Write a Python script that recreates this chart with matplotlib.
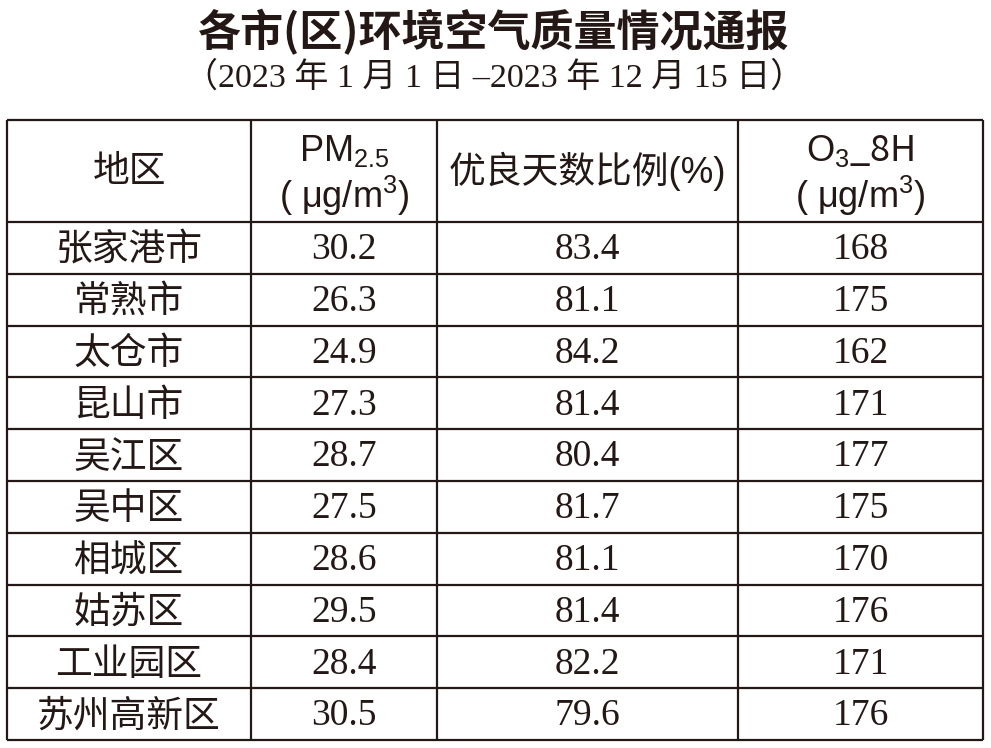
import matplotlib
matplotlib.use("Agg")
import matplotlib.pyplot as plt

# 中文字体 + 数学文本字体
plt.rcParams['font.family'] = ['Noto Sans CJK SC', 'DejaVu Sans']
plt.rcParams['mathtext.fontset'] = 'custom'
plt.rcParams['mathtext.rm'] = 'Liberation Sans'
plt.rcParams['mathtext.it'] = 'Liberation Sans'

# 数据
regions = ["张家港市", "常熟市", "太仓市", "昆山市", "吴江区",
           "吴中区", "相城区", "姑苏区", "工业园区", "苏州高新区"]
pm25 = ["30.2", "26.3", "24.9", "27.3", "28.7", "27.5", "28.6", "29.5", "28.4", "30.5"]
good_ratio = ["83.4", "81.1", "84.2", "81.4", "80.4", "81.7", "81.1", "81.4", "82.2", "79.6"]
o3_8h = ["168", "175", "162", "171", "177", "175", "170", "176", "171", "176"]

title = "各市(区)环境空气质量情况通报"
subtitle = "（2023 年 1 月 1 日 –2023 年 12 月 15 日）"

ink = '#231815'
serif = ['Liberation Serif', 'Noto Sans CJK SC']
sans = ['Liberation Sans', 'Noto Sans CJK SC']

fig = plt.figure(figsize=(9.91, 7.48), dpi=100)
ax = fig.add_axes([0, 0, 1, 1])
ax.set_xlim(0, 991)
ax.set_ylim(748, 0)
ax.axis('off')

# 表格框线 (像素坐标)
col_x = [7, 251, 437, 738, 983]
top, head_bottom, bottom = 120, 222, 740
n = len(regions)
row_h = (bottom - head_bottom) / n
row_y = [head_bottom + row_h * i for i in range(n + 1)]

ax.hlines([top] + row_y, col_x[0], col_x[-1], color=ink, lw=1.6)
ax.vlines(col_x, top, bottom, color=ink, lw=1.6)

centers = [(col_x[i] + col_x[i + 1]) / 2 for i in range(4)]

# 标题
ax.text(494, 32, title, ha='center', va='center', fontsize=31, fontweight='bold', color=ink)
ax.text(494, 78, subtitle, ha='center', va='center', fontsize=24.5, color=ink, family=serif)

# 表头
hy = (top + head_bottom) / 2
unit = "( μg/m$^{3}$)"
ax.text(centers[0], hy, "地区", ha='center', va='center', fontsize=26.5, color=ink)
ax.text(centers[1], 151, r"$\mathrm{PM}_{2.5}$", ha='center', va='center', fontsize=26, color=ink)
ax.text(centers[1], 196, unit, ha='center', va='center', fontsize=26, color=ink, family=sans)
ax.text(centers[2], hy, "优良天数比例(%)", ha='center', va='center', fontsize=26.5, color=ink, family=sans)
ax.text(centers[3], 151, r"$\mathrm{O}_{3}$_8H", ha='center', va='center', fontsize=26, color=ink)
ax.text(centers[3], 196, unit, ha='center', va='center', fontsize=26, color=ink, family=sans)

# 表格内容
for i in range(n):
    cy = (row_y[i] + row_y[i + 1]) / 2 + 2
    ax.text(centers[0], cy, regions[i], ha='center', va='center', fontsize=26.5, color=ink)
    ax.text(centers[1], cy, pm25[i], ha='center', va='center', fontsize=27, color=ink, family=serif)
    ax.text(centers[2], cy, good_ratio[i], ha='center', va='center', fontsize=27, color=ink, family=serif)
    ax.text(centers[3], cy, o3_8h[i], ha='center', va='center', fontsize=27, color=ink, family=serif)

fig.savefig("out.png", dpi=100)
